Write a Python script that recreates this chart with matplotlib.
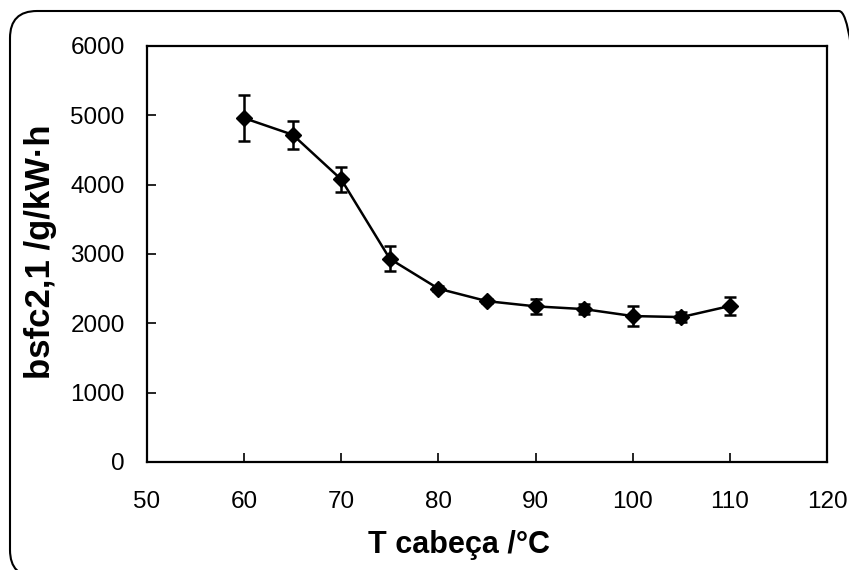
import numpy as np
import matplotlib.pyplot as plt
from matplotlib.patches import FancyBboxPatch

# temperatura da cabeça e consumo específico medido
t_cabeca = [60, 65, 70, 75, 80, 85, 90, 95, 100, 105, 110]
bsfc = [4960, 4720, 4075, 2930, 2500, 2320, 2245, 2205, 2105, 2090, 2250]
erro = [330, 205, 180, 180, 40, 30, 105, 75, 145, 75, 125]

plt.rcParams['font.family'] = ['Liberation Sans', 'DejaVu Sans']

fig = plt.figure(figsize=(8.49, 5.70), dpi=100)
ax = fig.add_axes([147 / 849, 108 / 570, 680 / 849, 416 / 570])

# moldura arredondada em volta do gráfico (em polegadas)
moldura = FancyBboxPatch((0.10, -0.07), 8.56, 5.66,
                         boxstyle="round,pad=0,rounding_size=0.27",
                         transform=fig.dpi_scale_trans, fill=False,
                         edgecolor='black', linewidth=1.5, clip_on=False)
fig.patches.append(moldura)

ax.errorbar(t_cabeca, bsfc, yerr=erro, color='black', marker='D',
            markersize=8.5, linewidth=1.8, elinewidth=1.8, capsize=4.5,
            capthick=1.8)

ax.set_xlim(50, 120)
ax.set_ylim(0, 6000)
ax.set_xticks(np.arange(50, 121, 10))
ax.set_yticks(np.arange(0, 6001, 1000))
ax.tick_params(axis='both', direction='in', length=6.5, width=1.2,
               labelsize=17.5)
ax.tick_params(axis='x', pad=21)
ax.tick_params(axis='y', pad=16)
for s in ax.spines.values():
    s.set_linewidth(1.6)

ax.set_xlabel('T cabeça /°C', fontsize=22, fontweight='bold')
ax.xaxis.label.set_verticalalignment('center')
ax.xaxis.set_label_coords(0.459, -0.2)
ax.set_ylabel('bsfc2,1 /g/kW·h', fontsize=25, fontweight='bold')
ax.yaxis.label.set_verticalalignment('center')
ax.yaxis.set_label_coords(-0.157, 0.505)

fig.savefig('out.png', dpi=100)
